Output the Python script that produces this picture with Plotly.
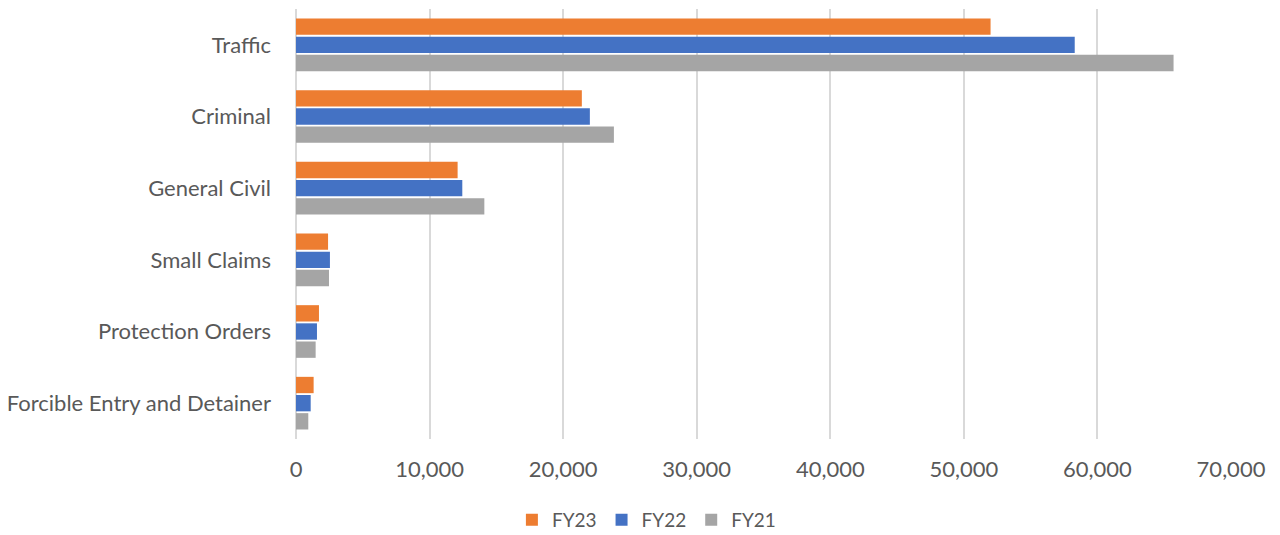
import plotly.graph_objects as go

categories = ["Traffic", "Criminal", "General Civil", "Small Claims", "Protection Orders", "Forcible Entry and Detainer"]
fy23 = [52000, 21400, 12100, 2400, 1720, 1320]
fy22 = [58300, 22000, 12450, 2540, 1570, 1100]
fy21 = [65700, 23800, 14100, 2470, 1470, 920]
series_names = ["FY23", "FY22", "FY21"]
colors = ["#ED7D31", "#4472C4", "#A5A5A5"]
x_ticks = [0, 10000, 20000, 30000, 40000, 50000, 60000, 70000]
x_tick_labels = ["0", "10,000", "20,000", "30,000", "40,000", "50,000", "60,000", "70,000"]

FONT = "Lato"
TXT = "#595959"

fig = go.Figure()
for name, vals, col in zip(series_names, [fy23, fy22, fy21], colors):
    fig.add_trace(go.Bar(
        y=categories, x=vals, name=name, orientation="h",
        marker=dict(color=col, line=dict(width=0)),
    ))

fig.update_layout(
    width=1280, height=535,
    margin=dict(l=296, r=49, t=9, b=96, autoexpand=False),
    paper_bgcolor="white", plot_bgcolor="white",
    barmode="group", bargap=0.24, bargroupgap=0.1,
    font=dict(family=FONT, size=22, color=TXT),
    legend=dict(orientation="h", xref="container", x=0.505, xanchor="center",
                y=-0.188, yanchor="middle",
                font=dict(family=FONT, size=19, color=TXT), traceorder="normal",
                itemwidth=30, tracegroupgap=0),
    xaxis=dict(range=[0, 70000], tickvals=x_ticks, ticktext=x_tick_labels,
               showgrid=True, gridcolor="#D9D9D9", gridwidth=2,
               zeroline=True, zerolinecolor="#D9D9D9", zerolinewidth=2,
               showline=False, ticklabelstandoff=15,
               tickfont=dict(family=FONT, size=22, color=TXT)),
    yaxis=dict(autorange="reversed", showgrid=False, showline=False,
               ticklabelstandoff=24,
               tickfont=dict(family=FONT, size=22, color=TXT)),
)

fig.write_html(
    "out.html",
    config={"displayModeBar": False},
    post_script="document.body.style.margin='0';document.body.style.overflow='hidden';",
)
